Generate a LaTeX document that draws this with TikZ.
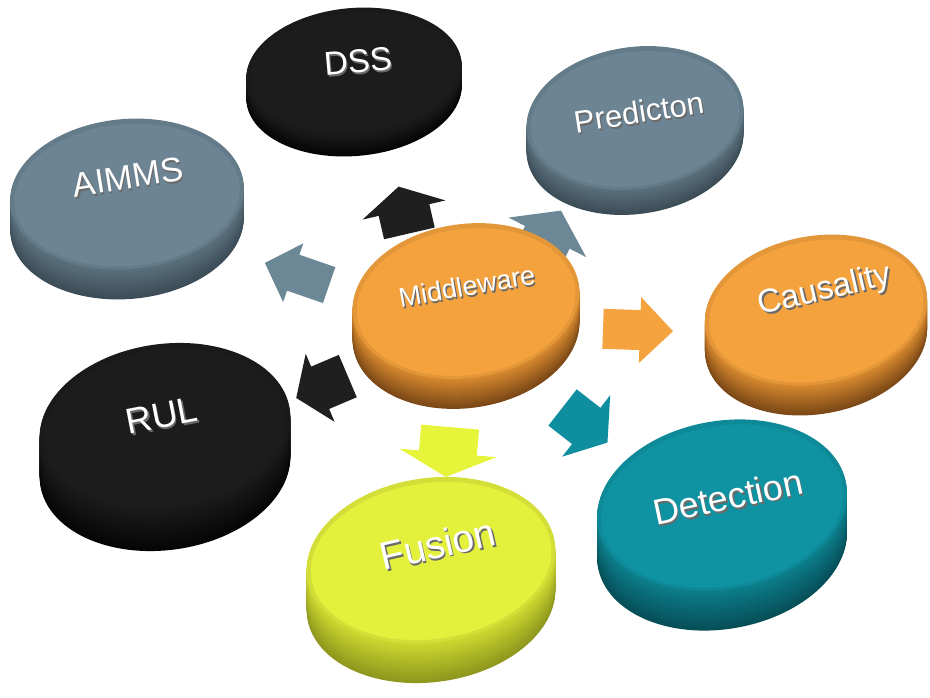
\documentclass[tikz,border=0pt]{standalone}
\usepackage{fontspec}
\setmainfont{Liberation Sans}
\usetikzlibrary{shapes.geometric}
\definecolor{bkTop}{HTML}{1C1C1C}\definecolor{bkSide}{HTML}{1A1A1A}\definecolor{bkDark}{HTML}{050505}
\definecolor{gbTop}{HTML}{6C8493}\definecolor{gbSide}{HTML}{5B717E}\definecolor{gbDark}{HTML}{3C4C56}
\definecolor{orTop}{HTML}{F4A23D}\definecolor{orSide}{HTML}{D88A2F}\definecolor{orDark}{HTML}{7A4716}
\definecolor{ylTop}{HTML}{E3F03C}\definecolor{ylSide}{HTML}{CDDA30}\definecolor{ylDark}{HTML}{8E961C}
\definecolor{tlTop}{HTML}{0F93A2}\definecolor{tlSide}{HTML}{0C7F8C}\definecolor{tlDark}{HTML}{064E57}
\definecolor{arBk}{HTML}{1F1F1F}\definecolor{arGb}{HTML}{6C8796}\definecolor{arOr}{HTML}{F5A33E}
\definecolor{arYl}{HTML}{E6F53A}\definecolor{arTl}{HTML}{0E8E9E}
\definecolor{txShadow}{HTML}{6A6A6A}
\tikzset{
  topface/.style={ellipse, inner sep=0pt},
  lbltop/.style={text=white, inner sep=0pt},
}
% disc: name, cx, cy, rx, ry, rot, thickness, colour family
\newcommand\disc[8]{%
  \foreach \k in {#7,...,1}{%
    \pgfmathtruncatemacro\pp{100*\k/#7}%
    \fill[#8Dark!\pp!#8Side, rotate around={#6:(#2,#3+\k)}] (#2,#3+\k) ellipse [x radius=#4pt, y radius=#5pt];
  }%
  \node[topface, fill=#8Top!93!black, minimum width=2*#4pt, minimum height=2*#5pt, rotate=#6] (#1) at (#2,#3) {};
  \fill[#8Top, rotate around={#6:(#2,#3)}] (#2,#3+1) ellipse [x radius=#4pt-4pt, y radius=#5pt-4pt];
}
% label with grey extrusion: name, x, y, rot, size, text
\newcommand\lbl[6]{%
  \node[lbltop, rotate=#4, font=\fontsize{#5}{#5}\selectfont] (#1) at (#2,#3)
    {\makebox[0pt][l]{\hspace{1.2pt}\raisebox{-2.2pt}{\textcolor{txShadow}{#6}}}#6};
}
% block arrow: name, x, y, angle, length, head width, shaft width, head length, colour
\newcommand\barrow[9]{%
  \begin{scope}[shift={(#2,#3)}, rotate=#4]
    \fill[#9] (-#5/2,-#7/2) -- (#5/2-#8,-#7/2) -- (#5/2-#8,-#6/2) -- (#5/2,0)
      -- (#5/2-#8,#6/2) -- (#5/2-#8,#7/2) -- (-#5/2,#7/2) -- cycle;
    \coordinate (#1) at (0,0);
  \end{scope}
}
\begin{document}
\begin{tikzpicture}[x=1pt, y=-1pt]
\useasboundingbox (0,0) rectangle (930,697);
\fill[white] (0,0) rectangle (930,697);
% arrows
\barrow{aDSS}{404}{210}{103}{48}{85}{52}{24}{arBk}
\barrow{aPred}{546}{240}{63}{66}{87}{50}{30}{arGb}
\barrow{aAIMMS}{297}{274}{161}{68}{62}{38}{30}{arGb}
\barrow{aRUL}{322}{387}{203}{56}{74}{46}{26}{arBk}
\barrow{aCaus}{638}{330}{-2}{70}{66}{40}{33}{arOr}
\barrow{aFus}{448}{452}{-95}{50}{97}{58}{24}{arYl}
\barrow{aDet}{585}{425}{-38}{57}{78}{46}{27}{arTl}
% discs
\disc{dss}{354}{72}{108}{64}{5}{20}{bk}
\disc{pred}{635}{118}{109}{71}{8}{25}{gb}
\disc{aimms}{127}{194}{117}{75}{5}{30}{gb}
\disc{mw}{466}{301}{114}{77}{8}{30}{or}
\disc{caus}{816}{310}{112}{74}{10}{30}{or}
\disc{rul}{165}{427}{126}{83}{8}{40}{bk}
\disc{det}{722}{505}{126}{84}{10}{40}{tl}
\disc{fus}{431}{560}{125}{82}{8}{40}{yl}
% labels
\lbl{dssT}{358}{62}{5}{33}{DSS}
\lbl{predT}{639}{113}{9}{31}{Predicton}
\lbl{aimmsT}{128}{178}{9}{34}{AIMMS}
\lbl{mwT}{467}{287}{10}{27}{Middleware}
\lbl{causT}{825}{292}{13}{33}{Causality}
\lbl{rulT}{162}{417}{11}{36}{RUL}
\lbl{detT}{728}{498}{12}{36}{Detection}
\lbl{fusT}{438}{545}{13}{39}{Fusion}
\end{tikzpicture}
\end{document}
